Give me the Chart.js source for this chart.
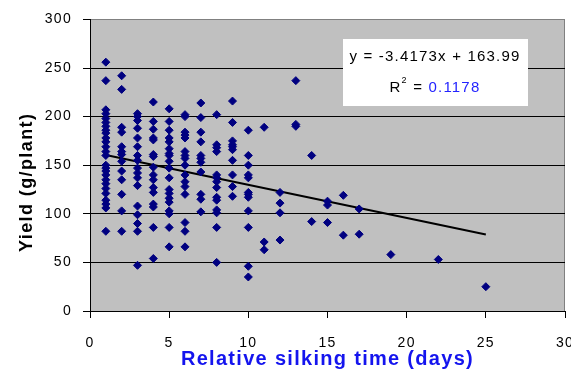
<!DOCTYPE html>
<html>
<head>
<meta charset="utf-8">
<script src="https://cdn.jsdelivr.net/npm/chart.js@4/dist/chart.umd.min.js"></script>
<style>
html,body{margin:0;padding:0;background:#fff;}
canvas{display:block;}
</style>
</head>
<body>
<canvas id="c" width="571" height="373"></canvas>
<script>
// Relative silking time (days) with the yields observed at each day
const days = [1,2,3,4,5,6,7,8,9,10,11,12,13,14,15,16,17,19,22,25];
const yieldByDay = [
  [256,237,207,203,198,194,190,186,183,178,174,169,164,160,150,147,144,140,135,131,126,121,114,110,106,82],
  [242,228,189,184,169,164,161,154,144,135,120,103,82],
  [203,200,196,188,178,169,160,155,147,142,137,129,108,99,90,82,47],
  [215,195,187,178,176,161,159,148,140,135,127,122,110,107,86,54],
  [208,195,186,178,174,167,162,160,154,147,137,125,121,116,112,103,100,86,66],
  [202,200,184,181,178,164,160,157,150,140,133,128,120,91,82,66],
  [214,199,184,174,160,157,153,143,120,115,102],
  [202,171,168,164,140,137,133,127,117,114,104,101,86,50],
  [216,194,175,171,169,166,155,140,128,118],
  [186,160,150,140,137,122,120,117,103,86,46,35],
  [189,71,63],
  [122,111,101,73],
  [237,192,190],
  [160,92],
  [113,109,91],
  [119,78],
  [105,79],
  [58],
  [53],
  [25]
];
// Trendline end points (as drawn)
const trendX = [1, 25];
const trendY = [160.6, 78.6];
const xTicks = [0,5,10,15,20,25,30];
const yTicks = [0,50,100,150,200,250,300];
const xTitle = 'Relative silking time (days)';
const yTitle = 'Yield (g/plant)';
const equationText = "y = -3.4173x + 163.99";
const r2Value = "0.1178";

const points = [];
days.forEach((d, i) => yieldByDay[i].forEach(v => points.push({x: d, y: v})));
const trend = trendX.map((x, i) => ({x, y: trendY[i]}));

const FONT = "'Liberation Sans', Arial, sans-serif";

const spacingPlugin = {
  id: 'spacing',
  beforeLayout(chart) { chart.ctx.letterSpacing = '1.3px'; },
  beforeDraw(chart) {
    const ctx = chart.ctx;
    ctx.letterSpacing = '1.3px';
    const a = chart.chartArea;
    ctx.save();
    ctx.fillStyle = '#c0c0c0';
    ctx.fillRect(a.left, a.top, a.right - a.left, a.bottom - a.top);
    ctx.strokeStyle = '#808080';
    ctx.lineWidth = 1;
    ctx.beginPath();
    ctx.moveTo(a.right - 0.5, a.top);
    ctx.lineTo(a.right - 0.5, a.bottom);
    ctx.stroke();
    ctx.restore();
  },
  afterDraw(chart) {
    const ctx = chart.ctx;
    // Y axis title (drawn upward from its bottom end)
    ctx.save();
    ctx.letterSpacing = '1.4px';
    ctx.font = 'bold 18px ' + FONT;
    ctx.fillStyle = '#000';
    ctx.textAlign = 'left';
    ctx.textBaseline = 'middle';
    ctx.translate(27, 252);
    ctx.rotate(-Math.PI / 2);
    ctx.fillText(yTitle, 0, 0);
    ctx.restore();

    ctx.save();
    ctx.letterSpacing = '1.2px';
    ctx.fillStyle = '#ffffff';
    ctx.fillRect(343, 39, 185, 67);
    ctx.font = '15px ' + FONT;
    ctx.fillStyle = '#000';
    ctx.textBaseline = 'middle';
    ctx.textAlign = 'center';
    ctx.fillText(equationText, 435, 57);
    // R^2 line
    ctx.textAlign = 'left';
    const partR = 'R';
    const partEq = ' = ';
    ctx.font = '15px ' + FONT;
    const wR = ctx.measureText(partR).width;
    const wEq = ctx.measureText(partEq).width;
    const wV = ctx.measureText(r2Value).width;
    ctx.font = '9px ' + FONT;
    const wS = ctx.measureText('2').width;
    const total = wR + wS + wEq + wV;
    let x = 435 - total / 2;
    const y = 88;
    ctx.font = '15px ' + FONT;
    ctx.fillText(partR, x, y); x += wR;
    ctx.font = '9px ' + FONT;
    ctx.fillText('2', x, y - 7); x += wS;
    ctx.font = '15px ' + FONT;
    ctx.fillText(partEq, x, y); x += wEq;
    ctx.fillStyle = '#2323ff';
    ctx.fillText(r2Value, x, y);
    ctx.restore();
  }
};

new Chart(document.getElementById('c'), {
  type: 'scatter',
  data: {
    datasets: [
      {
        label: 'Yield',
        data: points,
        pointStyle: 'rectRot',
        pointRadius: 4,
        pointHoverRadius: 4,
        backgroundColor: '#000080',
        borderColor: '#000080',
        borderWidth: 1
      },
      {
        label: 'Trend',
        data: trend,
        showLine: true,
        pointRadius: 0,
        borderColor: '#000000',
        borderWidth: 2,
        fill: false
      }
    ]
  },
  options: {
    responsive: false,
    devicePixelRatio: 1,
    animation: false,
    events: [],
    layout: { padding: { top: 17, right: 6, left: 0, bottom: 0 } },
    plugins: { legend: { display: false }, tooltip: { enabled: false } },
    scales: {
      x: {
        type: 'linear',
        min: 0, max: 30,
        afterBuildTicks(scale) { scale.ticks = xTicks.map(v => ({value: v})); },
        afterFit(scale) { scale.height = 62; scale.paddingRight = 0; scale.paddingLeft = 0; },
        ticks: { color: '#000', font: { family: FONT, size: 14 }, padding: 17, maxRotation: 0, autoSkip: false },
        grid: { drawOnChartArea: false, drawTicks: true, tickLength: 7, tickColor: '#000', color: '#000' },
        border: { display: true, color: '#000', width: 1 },
        title: { display: true, text: xTitle, color: '#1414ee',
                 font: { family: FONT, size: 20, weight: 'bold' }, padding: { top: 0, bottom: 2 } }
      },
      y: {
        min: 0, max: 300,
        afterBuildTicks(scale) { scale.ticks = yTicks.map(v => ({value: v})); },
        afterFit(scale) { scale.width = 90; },
        ticks: { color: '#000', font: { family: FONT, size: 14 }, padding: 11 },
        grid: {
          drawTicks: true, tickLength: 7, tickColor: '#000',
          color: ctx => (ctx.tick && ctx.tick.value === 300) ? '#808080' : '#000000',
          lineWidth: 1
        },
        border: { display: true, color: '#000', width: 1 },
        title: { display: false, text: yTitle }
      }
    }
  },
  plugins: [spacingPlugin]
});
</script>
</body>
</html>
